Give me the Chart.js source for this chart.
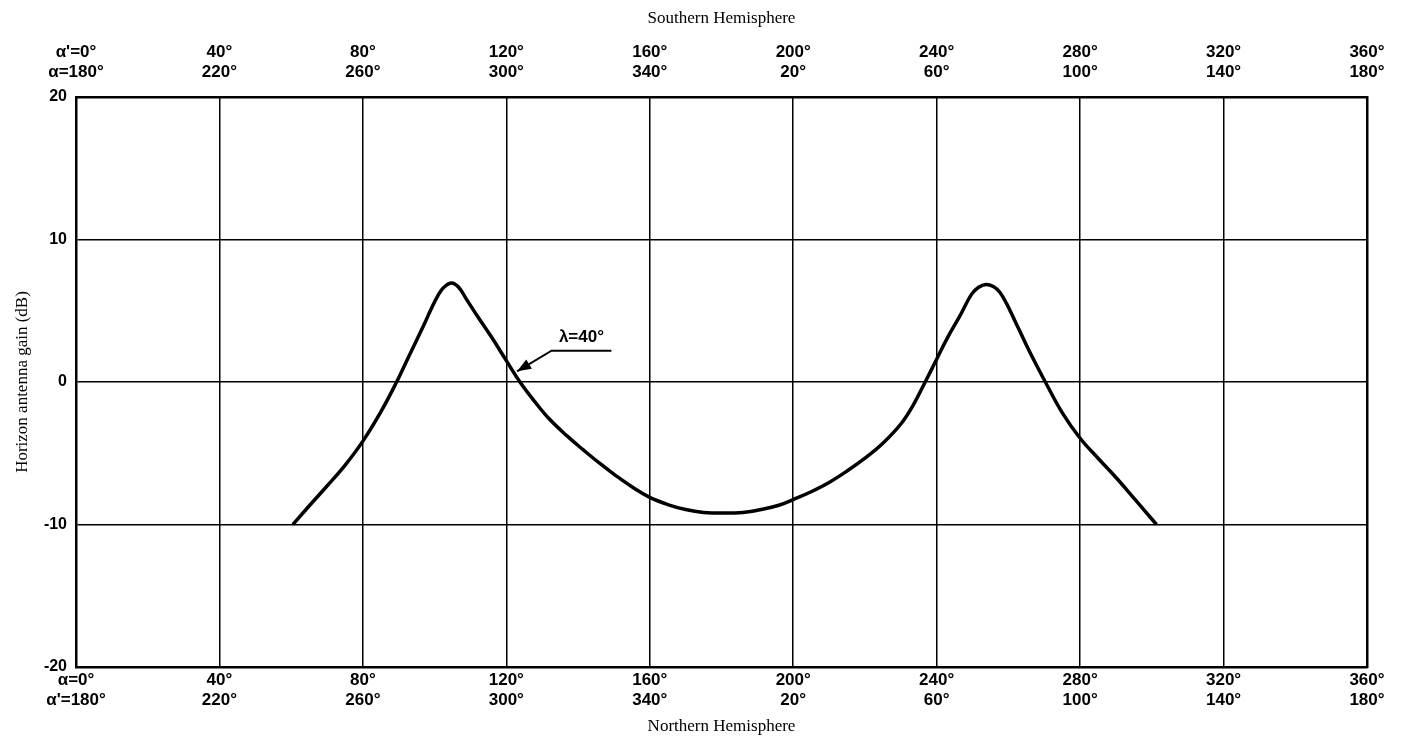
<!DOCTYPE html>
<html>
<head>
<meta charset="utf-8">
<script src="https://cdn.jsdelivr.net/npm/chart.js@4.4.1/dist/chart.umd.min.js"></script>
<style>
html,body{margin:0;padding:0;background:#fff;}
#wrap{width:1402px;height:744px;position:relative;}
</style>
</head>
<body>
<div id="wrap"><canvas id="c" width="1402" height="744"></canvas></div>
<script>
// ---- data ----
const xDeg = [60.5, 65, 70, 75, 80, 85, 89.4, 93, 97, 99, 101, 102.6, 104.7, 106.7, 108.9, 112, 116, 120, 123.8, 128, 132, 137, 141.4, 146, 150.7, 155, 160, 165, 170, 175, 180.5, 186, 191, 196, 200, 205, 210, 215, 220, 225, 230, 233.5, 236.8, 240, 243, 246.4, 249.7, 251.7, 253.7, 255.8, 257.6, 259.5, 262, 265, 268, 270.3, 275, 280, 285, 290, 295, 301.3];
const gainDb = [-10, -8.7, -7.3, -5.85, -4.15, -2.1, 0, 1.9, 4.0, 5.1, 6.1, 6.65, 6.95, 6.65, 5.8, 4.6, 3.1, 1.5, 0, -1.4, -2.6, -3.8, -4.75, -5.7, -6.6, -7.35, -8.1, -8.6, -8.95, -9.15, -9.2, -9.15, -8.95, -8.65, -8.25, -7.7, -7.05, -6.25, -5.35, -4.3, -2.95, -1.6, 0, 1.6, 3.1, 4.6, 6.15, 6.65, 6.85, 6.7, 6.3, 5.5, 4.2, 2.6, 1.1, 0, -2.15, -3.95, -5.35, -6.7, -8.15, -10];
const tickValues = [0, 40, 80, 120, 160, 200, 240, 280, 320, 360];
const topLine1 = ["α'=0°", "40°", "80°", "120°", "160°", "200°", "240°", "280°", "320°", "360°"];
const topLine2 = ["α=180°", "220°", "260°", "300°", "340°", "20°", "60°", "100°", "140°", "180°"];
const bottomLine1 = ["α=0°", "40°", "80°", "120°", "160°", "200°", "240°", "280°", "320°", "360°"];
const bottomLine2 = ["α'=180°", "220°", "260°", "300°", "340°", "20°", "60°", "100°", "140°", "180°"];
const yTicks = [-20, -10, 0, 10, 20];
const annotationLabel = "λ=40°";
const annotationTip = {x: 123, y: 0.75};
const annotationElbow = {x: 132.6, y: 2.2};
const annotationEnd = {x: 149.3, y: 2.2};

// ---- chart ----
const points = xDeg.map((x, i) => ({x: x, y: gainDb[i]}));
const tickFont = {family: "'Liberation Sans', Arial, sans-serif", size: 17, weight: 'bold', lineHeight: '20px'};
const titleFont = {family: "'Liberation Serif', 'Times New Roman', serif", size: 17};

function idx(v){ return tickValues.indexOf(Math.round(v)); }

const annotationPlugin = {
  id: 'lambdaNote',
  afterDatasetsDraw(chart) {
    const ctx = chart.ctx, xs = chart.scales.x, ys = chart.scales.y;
    const tx = xs.getPixelForValue(annotationTip.x), ty = ys.getPixelForValue(annotationTip.y);
    const ex = xs.getPixelForValue(annotationElbow.x), ey = ys.getPixelForValue(annotationElbow.y);
    const fx = xs.getPixelForValue(annotationEnd.x);
    ctx.save();
    ctx.strokeStyle = '#000'; ctx.fillStyle = '#000'; ctx.lineWidth = 2;
    ctx.beginPath(); ctx.moveTo(fx, ey); ctx.lineTo(ex, ey); ctx.lineTo(tx, ty); ctx.stroke();
    const ang = Math.atan2(ty - ey, tx - ex), L = 14, W = 5.5;
    ctx.beginPath();
    ctx.moveTo(tx, ty);
    ctx.lineTo(tx - L*Math.cos(ang) + W*Math.sin(ang), ty - L*Math.sin(ang) - W*Math.cos(ang));
    ctx.lineTo(tx - L*Math.cos(ang) - W*Math.sin(ang), ty - L*Math.sin(ang) + W*Math.cos(ang));
    ctx.closePath(); ctx.fill();
    ctx.font = "bold 17px 'Liberation Sans', Arial, sans-serif";
    ctx.textAlign = 'center'; ctx.textBaseline = 'bottom';
    ctx.fillText(annotationLabel, (ex + fx) / 2, ey - 5);
    ctx.restore();
  }
};

new Chart(document.getElementById('c'), {
  type: 'line',
  data: {
    datasets: [{
      data: points,
      borderColor: '#000',
      borderWidth: 3.5,
      pointRadius: 0,
      tension: 0.4,
      fill: false
    }]
  },
  options: {
    responsive: false,
    animation: false,
    layout: {padding: {left: 0, right: 35, top: 0, bottom: 0}},
    plugins: {legend: {display: false}, tooltip: {enabled: false}},
    scales: {
      x: {
        type: 'linear', position: 'bottom', min: 0, max: 360,
        afterBuildTicks: s => { s.ticks = tickValues.map(v => ({value: v})); },
        afterFit: s => { s.height = 77; },
        grid: {color: '#000', lineWidth: 1.5, drawTicks: false},
        border: {color: '#000', width: 2.5},
        ticks: {
          color: '#000', font: tickFont, padding: 3, maxRotation: 0, autoSkip: false,
          callback: v => [bottomLine1[idx(v)], bottomLine2[idx(v)]]
        },
        title: {display: true, text: 'Northern Hemisphere', color: '#000', font: titleFont, padding: {top: 0, bottom: 7}}
      },
      x2: {
        type: 'linear', position: 'top', min: 0, max: 360,
        afterBuildTicks: s => { s.ticks = tickValues.map(v => ({value: v})); },
        afterFit: s => { s.height = 97; },
        grid: {display: false, drawTicks: false},
        border: {color: '#000', width: 2.5},
        ticks: {
          color: '#000', font: tickFont, padding: 15, maxRotation: 0, autoSkip: false,
          callback: v => [topLine1[idx(v)], topLine2[idx(v)]]
        },
        title: {display: true, text: 'Southern Hemisphere', color: '#000', font: titleFont, padding: {top: 8, bottom: 0}}
      },
      y: {
        type: 'linear', position: 'left', min: -20, max: 20,
        afterBuildTicks: s => { s.ticks = yTicks.map(v => ({value: v})); },
        afterFit: s => { s.width = 76; },
        grid: {color: '#000', lineWidth: 1.5, drawTicks: false},
        border: {color: '#000', width: 2.5},
        ticks: {color: '#000', font: {family: "'Liberation Sans', Arial, sans-serif", size: 16, weight: 'bold'}, padding: 9},
        title: {display: true, text: 'Horizon antenna gain (dB)', color: '#000', font: titleFont, padding: {top: 12, bottom: 0}}
      },
      y2: {
        type: 'linear', position: 'right', min: -20, max: 20,
        afterFit: s => { s.width = 0; },
        grid: {display: false, drawTicks: false},
        border: {color: '#000', width: 2.5},
        ticks: {display: false}
      }
    }
  },
  plugins: [annotationPlugin]
});
</script>
</body>
</html>
